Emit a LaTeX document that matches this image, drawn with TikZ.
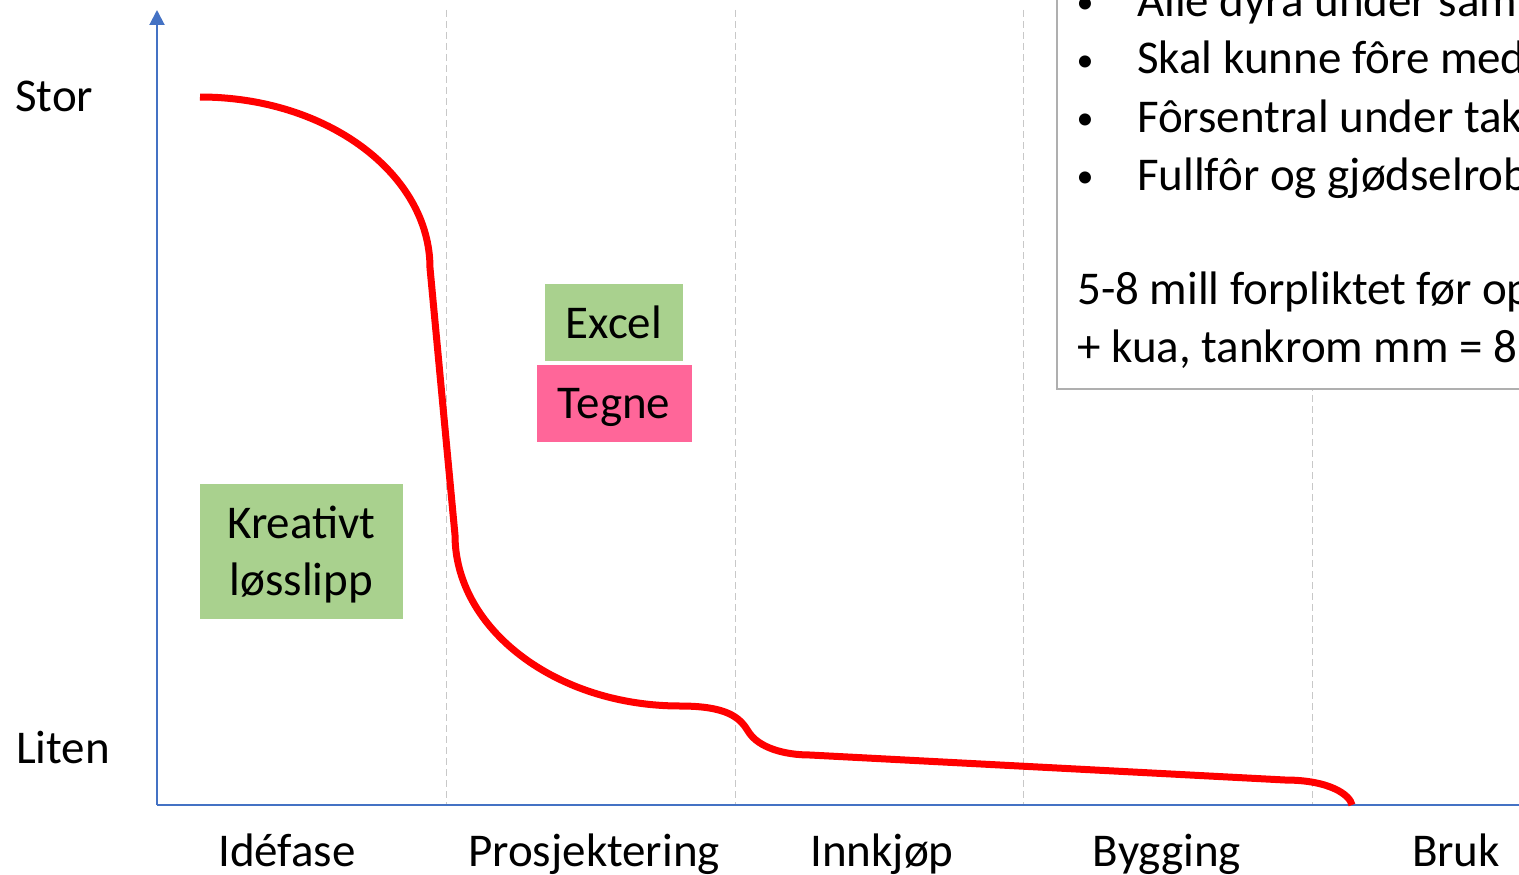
\documentclass[tikz,border=0pt]{standalone}
\usepackage{fontspec}
\setmainfont{Carlito}
\usetikzlibrary{arrows.meta,positioning}
\definecolor{axisblue}{HTML}{4472C4}
\definecolor{boxgreen}{HTML}{A9D18E}
\definecolor{boxpink}{HTML}{FF6699}
\definecolor{gridgray}{HTML}{C8C8C8}
\definecolor{framegray}{HTML}{AFAFAF}
\tikzset{
  ph/axis/.style={draw=axisblue, line width=2pt},
  ph/grid/.style={draw=gridgray, line width=1pt, dash pattern=on 7pt off 4pt},
  ph/curve/.style={draw=red, line width=7pt},
  ph/label/.style={font=\fontsize{47}{57}\selectfont, inner sep=0pt},
  ph/tool/.style={ph/label, minimum height=77pt, align=center},
  ph/note/.style={draw=framegray, line width=2pt, fill=white},
  ph/line/.style={ph/label, anchor=base west},
  ph/bullet/.style={font=\fontsize{34}{40}\selectfont, inner sep=0pt, anchor=base}
}

\begin{document}
\begin{tikzpicture}[x=1pt, y=-1pt]
  \useasboundingbox (0,0) rectangle (1519,875);
  \clip (0,0) rectangle (1519,875);

  % phase borders
  \foreach \gx in {446,735,1023,1312}
    \draw[ph/grid] (\gx,10) -- (\gx,805);

  % axes
  \coordinate (origin) at (157,805);
  \coordinate (ytop) at (157,10);
  \coordinate (xend) at (1530,805);
  \draw[ph/axis, -{Triangle[length=15pt, width=15pt]}] (origin) -- (ytop);
  \draw[ph/axis] (origin) -- (xend);

  \node[ph/label, anchor=base west] (stor) at (15,111) {Stor};
  \node[ph/label, anchor=base west] (liten) at (16,763) {Liten};

  \foreach \px/\nm/\txt in {287/idefase/Idéfase, 594/prosj/Prosjektering, 882/innkjop/Innkjøp, 1167/bygging/Bygging, 1456/bruk/Bruk}
    \node[ph/label, anchor=base] (\nm) at (\px,866) {\txt};

  % curve of freedom
  \draw[ph/curve] (200,97) .. controls (327,97) and (430,174) .. (430,268)
    -- (455,535) .. controls (455,629) and (556,706) .. (680,706)
    .. controls (728,706) and (740,718) .. (748,731)
    .. controls (758,748) and (785,755) .. (810,755)
    -- (1285,780) .. controls (1330,780) and (1350,795) .. (1352,805);

  \node[ph/tool, fill=boxgreen, minimum width=203pt, minimum height=135pt, text depth=0pt] (kreativ) at (301.5,551) {Kreativt\\løsslipp};
  \node[ph/tool, fill=boxgreen, minimum width=138pt] (excel) at (614,322.5) {Excel};
  \node[ph/tool, fill=boxpink, minimum width=155pt, text depth=0pt, below=4pt of excel] (tegne) {Tegne};

  % notes
  \draw[ph/note] (1057,-20) rectangle (1600,389);
  \foreach \ly/\txt in {17/Alle dyra under sam, 74/Skal kunne fôre med, 132/Fôrsentral under tak, 190/Fullfôr og gjødselrob} {
    \node[ph/bullet] at (1085,\ly-3) {•};
    \node[ph/line] at (1137,\ly) {\txt};
  }
  \node[ph/line] (mill) at (1077,304) {5-8 mill forpliktet før op};
  \node[ph/line] (kua) at (1077,362) {+ kua, tankrom mm = 8};
\end{tikzpicture}
\end{document}
